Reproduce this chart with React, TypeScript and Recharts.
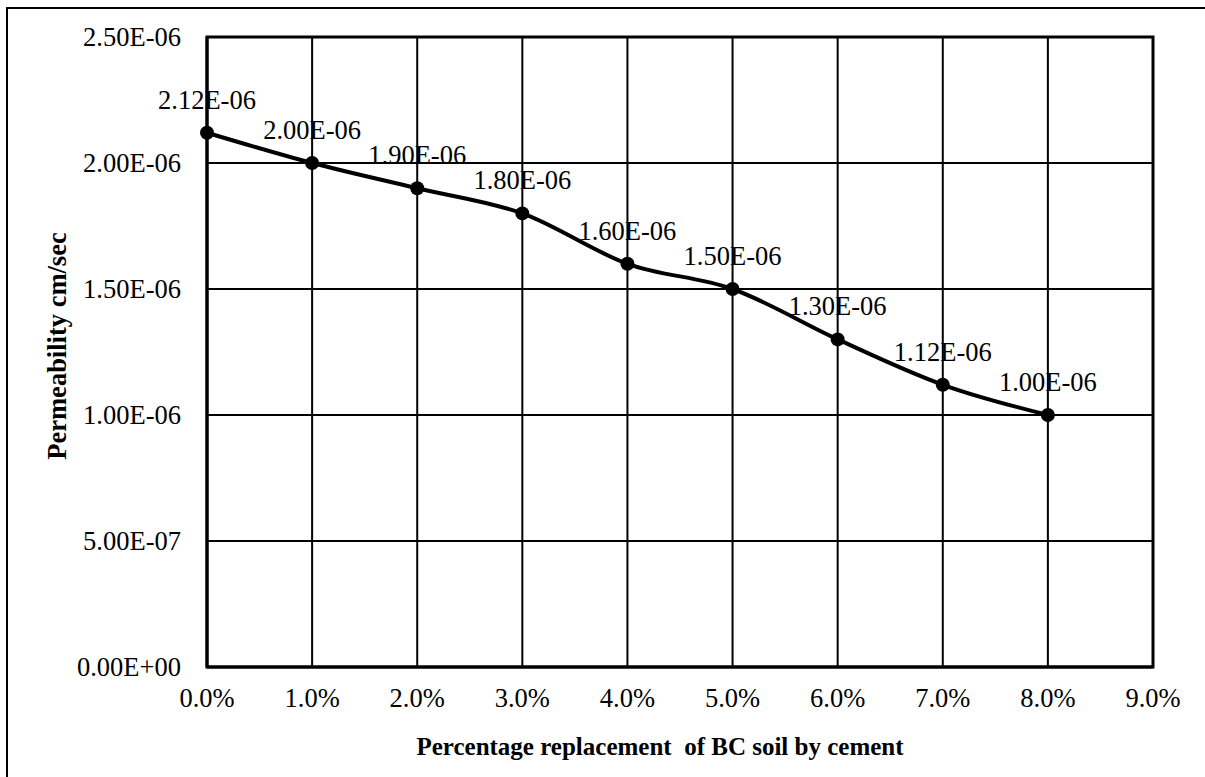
import React from 'react';
import { LineChart, Line, XAxis, YAxis, CartesianGrid, LabelList, Label, ReferenceArea } from 'recharts';

const cementPct = [0, 0.01, 0.02, 0.03, 0.04, 0.05, 0.06, 0.07, 0.08];
const permeability = [2.12e-6, 2.0e-6, 1.9e-6, 1.8e-6, 1.6e-6, 1.5e-6, 1.3e-6, 1.12e-6, 1.0e-6];
const xTicks = [0, 0.01, 0.02, 0.03, 0.04, 0.05, 0.06, 0.07, 0.08, 0.09];
const yTicks = [0, 5e-7, 1e-6, 1.5e-6, 2e-6, 2.5e-6];

const data = cementPct.map((x, i) => ({ x, y: permeability[i] }));

// Excel style scientific: 2.50E-06
const sci = (v: number) => {
  const [m, e] = v.toExponential(2).split('e');
  const n = parseInt(e, 10);
  const sign = n < 0 ? '-' : '+';
  return `${m}E${sign}${String(Math.abs(n)).padStart(2, '0')}`;
};

const pct = (v: number) => `${(v * 100).toFixed(1)}%`;

const font = '"Liberation Serif", "Times New Roman", serif';

const App: React.FC = () => {
  return (
    <div style={{ position: 'absolute', left: 0, top: 0, width: 1205, height: 777, background: '#fff', fontFamily: font }}>
      <div style={{ position: 'absolute', left: 6, top: 7, width: 1220, height: 800, border: '2px solid #000', boxSizing: 'border-box' }} />
      <LineChart
        width={1205}
        height={777}
        data={data}
        margin={{ top: 37, right: 52, left: 107, bottom: 70 }}
        style={{ position: 'absolute', left: 0, top: 0 }}
      >
        <CartesianGrid stroke="#000" strokeWidth={2} horizontalValues={yTicks} verticalValues={xTicks} />
        <XAxis
          dataKey="x"
          type="number"
          domain={[0, 0.09]}
          ticks={xTicks}
          tickFormatter={pct}
          height={40}
          axisLine={{ stroke: '#000', strokeWidth: 3 }}
          tickLine={false}
          tick={{ fill: '#000', fontSize: 26.5, fontFamily: font }}
          tickMargin={15}
          interval={0}
        >
          <Label
            value={'Percentage replacement \u00a0of BC soil by cement'}
            position="insideBottom"
            offset={-48}
            dx={-20}
            style={{ fill: '#000', fontSize: 25, fontWeight: 'bold', fontFamily: font }}
          />
        </XAxis>
        <YAxis
          type="number"
          domain={[0, 2.5e-6]}
          ticks={yTicks}
          tickFormatter={sci}
          width={100}
          axisLine={{ stroke: '#000', strokeWidth: 3 }}
          tickLine={false}
          tick={{ fill: '#000', fontSize: 26.5, fontFamily: font }}
          tickMargin={20}
          interval={0}
        >
          <Label
            value="Permeability cm/sec"
            angle={-90}
            position="insideLeft"
            offset={-50}
            dy={-6}
            style={{ fill: '#000', fontSize: 26.5, fontWeight: 'bold', fontFamily: font, textAnchor: 'middle' }}
          />
        </YAxis>
        <ReferenceArea x1={0} x2={0.09} y1={0} y2={2.5e-6} fill="none" stroke="#000" strokeWidth={3} fillOpacity={0} />
        <Line
          type="monotone"
          dataKey="y"
          stroke="#000"
          strokeWidth={4}
          dot={{ r: 7, fill: '#000', stroke: '#000', strokeWidth: 0 }}
          isAnimationActive={false}
        >
          <LabelList
            dataKey="y"
            position="top"
            offset={24}
            formatter={(v: any) => sci(Number(v))}
            style={{ fill: '#000', fontSize: 26.5, fontFamily: font }}
          />
        </Line>
      </LineChart>
    </div>
  );
};

export default App;
